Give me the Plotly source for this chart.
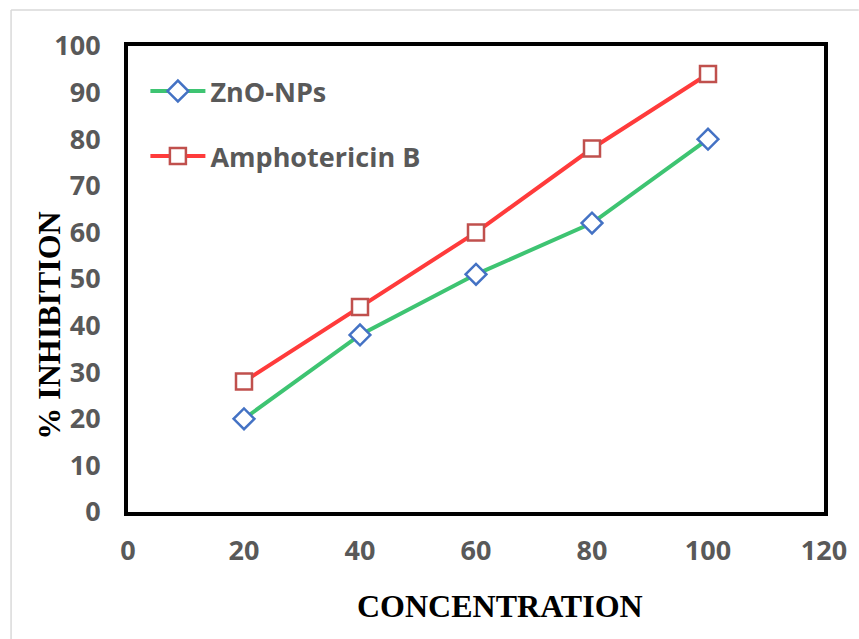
import plotly.graph_objects as go

# Concentration levels and % inhibition per treatment
concentration = [20, 40, 60, 80, 100]
zno_nps = [20, 38, 51, 62, 80]
amphotericin_b = [28, 44, 60, 78, 94]

x_ticks = [0, 20, 40, 60, 80, 100, 120]
y_ticks = [0, 10, 20, 30, 40, 50, 60, 70, 80, 90, 100]

tick_font = dict(family="Open Sans", size=27, color="#595959")
title_font = dict(family="Liberation Serif", size=32, color="#000000")

fig = go.Figure()

fig.add_trace(go.Scatter(
    x=concentration, y=zno_nps, name="<b>ZnO-NPs</b>", legendgroup="zno",
    mode="lines+markers",
    line=dict(color="#3EC472", width=4),
    marker=dict(symbol="diamond", size=16, color="white",
                line=dict(color="#4472C4", width=2.5)),
))

fig.add_trace(go.Scatter(
    x=concentration, y=amphotericin_b, name="<b>Amphotericin B</b>", legendgroup="amb",
    mode="lines+markers",
    line=dict(color="#FF3B3B", width=4),
    marker=dict(symbol="square", size=16, color="white",
                line=dict(color="#C0504D", width=2.5)),
))

fig.update_layout(
    width=859, height=639,
    margin=dict(l=128, r=29, t=46, b=127),
    paper_bgcolor="white", plot_bgcolor="white",
    showlegend=True,
    legend=dict(x=0.025, y=0.955, xanchor="left", yanchor="top",
                font=tick_font, bgcolor="rgba(0,0,0,0)",
                tracegroupgap=27, itemwidth=55),
    xaxis=dict(
        range=[0, 120], tickvals=x_ticks, ticktext=[f"<b>{v}</b>" for v in x_ticks],
        tickfont=tick_font, showgrid=False, zeroline=False,
        showline=True, linecolor="black", linewidth=4, mirror=True,
        ticks="", ticklabelstandoff=12,
    ),
    yaxis=dict(
        range=[0, 100], tickvals=y_ticks, ticktext=[f"<b>{v}</b>" for v in y_ticks],
        tickfont=tick_font, showgrid=False, zeroline=False,
        showline=True, linecolor="black", linewidth=4, mirror=True,
        ticks="", ticklabelstandoff=18,
    ),
    annotations=[
        dict(text="<b>CONCENTRATION</b>", font=title_font, showarrow=False,
             xref="paper", yref="paper", x=0.535, y=-0.202,
             xanchor="center", yanchor="middle"),
        dict(text="<b>% INHIBITION</b>", font=title_font, showarrow=False,
             textangle=-90, xref="paper", yref="paper", x=-0.114, y=0.401,
             xanchor="center", yanchor="middle"),
    ],
    shapes=[
        dict(type="line", xref="paper", yref="paper", x0=-0.168, x1=1.05, y0=1.077, y1=1.077,
             line=dict(color="#D9D9D9", width=1.5)),
        dict(type="line", xref="paper", yref="paper", x0=-0.168, x1=-0.168, y0=-0.3, y1=1.077,
             line=dict(color="#D9D9D9", width=1.5)),
    ],
)

fig.write_html("out.html")
